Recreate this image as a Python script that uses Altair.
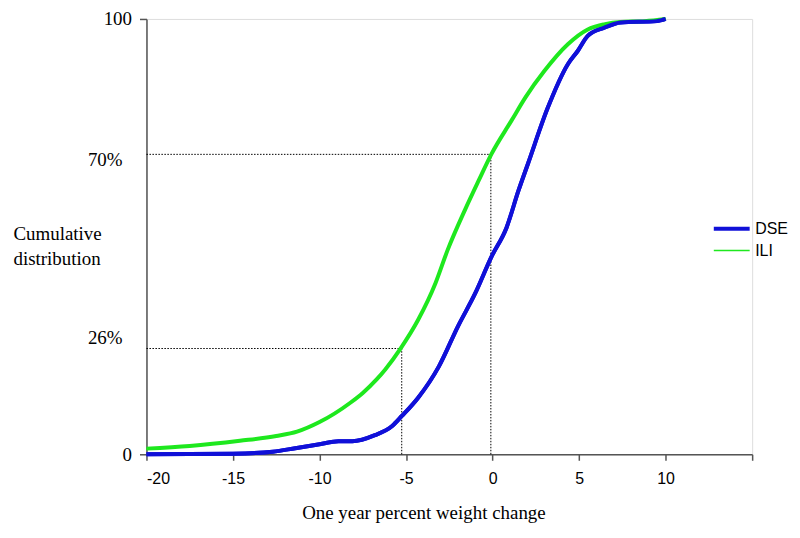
import altair as alt
import pandas as pd

# ---- data ----
ili_x = [-20, -17.5, -14.6, -12.5, -11.3, -10, -8.2, -7.5, -6.7, -6.2, -5.3, -4.3, -3.3,
         -2.6, -1.6, -0.8, -0.06, 1.1, 1.9, 3.0, 4.35, 5.5, 6.5, 7.4, 8.8, 10]
ili_y = [1.3, 1.9, 3.1, 4.2, 5.2, 7.4, 11.9, 14.1, 17.2, 19.5, 24.4, 30.9, 39.3,
         46.9, 56.1, 62.9, 69.0, 76.7, 82.0, 88.1, 94.2, 97.6, 98.8, 99.3, 99.5, 100]

dse_x = [-20, -15, -12.7, -11.4, -10, -8.9, -8.1, -6.8, -5.8, -5.24, -4.3, -3.1, -2.0,
         -1.0, -0.06, 0.8, 1.5, 2.05, 3.2, 4.35, 4.93, 5.5, 6.46, 7.4, 9.5, 10]
dse_y = [0, 0.15, 0.6, 1.4, 2.3, 3.0, 3.0, 4.4, 6.5, 8.8, 13.0, 20.2, 29.4,
         37.0, 45.4, 52.0, 60.6, 66.8, 79.7, 89.6, 92.7, 96.1, 98.0, 99.2, 99.5, 100]

series_names = ["DSE", "ILI"]
series_colors = ["#1010d8", "#1ee81e"]

# reference (dotted) lines: x where the ILI curve crosses the level, and the level
ref_x = [-0.1, -5.25]
ref_y = [68.9, 24.3]
ref_labels = ["70%", "26%"]
ref_label_y = [67.7, 26.8]

x_ticks = [-20, -15, -10, -5, 0, 5, 10, 15]
y_ticks = [0, 100]

# ---- tables ----
curves = pd.concat([
    pd.DataFrame({"x": dse_x, "y": dse_y, "series": "DSE"}),
    pd.DataFrame({"x": ili_x, "y": ili_y, "series": "ILI"}),
])
refs = pd.DataFrame({"xv": ref_x, "yv": ref_y, "x0": -20, "y0": 0,
                     "label": ref_labels, "ly": ref_label_y})

SERIF = "Liberation Serif"
SANS = "Liberation Sans"

xscale = alt.Scale(domain=[-20, 15], nice=False, zero=False)
yscale = alt.Scale(domain=[0, 100], nice=False)

x_axis = alt.Axis(values=x_ticks, labelExpr="datum.value == 15 ? '' : toString(datum.value)",
                  title="One year percent weight change", grid=False,
                  labelFont=SANS, labelFontSize=16, labelColor="black", labelPadding=10,
                  tickSize=6, tickColor="#555", domainColor="#555", domainWidth=1.5, tickWidth=1.5,
                  titleFont=SERIF, titleFontSize=19, titleFontWeight="normal", titleColor="black",
                  titleX=278, titleY=58, titleAnchor="middle", titleAlign="center", titleBaseline="middle")
y_axis = alt.Axis(values=y_ticks, format="d", title=["Cumulative", "distribution"], grid=False,
                  labelFont=SERIF, labelFontSize=19, labelColor="black", labelPadding=8,
                  tickSize=7, tickColor="#555", domainColor="#555", domainWidth=1.5, tickWidth=1.5,
                  titleFont=SERIF, titleFontSize=19, titleFontWeight="normal", titleColor="black",
                  titleAngle=0, titleAlign="left", titleBaseline="middle", titleLineHeight=25,
                  titleX=-134, titleY=215)

color_scale = alt.Scale(domain=series_names, range=series_colors)

legend_cfg = dict(title=None, orient="none", legendX=573, legendY=196,
                  symbolType="M-1.44,0H1.44", symbolSize=625,
                  labelFont=SANS, labelFontSize=16, labelColor="black",
                  labelOffset=9, rowPadding=0, padding=0)

# layer with legend (ILI thin in legend)
legend_lines = alt.Chart(curves).mark_line(interpolate="monotone").encode(
    x=alt.X("x:Q", scale=xscale, axis=x_axis),
    y=alt.Y("y:Q", scale=yscale, axis=y_axis),
    color=alt.Color("series:N", scale=color_scale, legend=alt.Legend(**legend_cfg)),
    strokeWidth=alt.StrokeWidth("series:N", scale=alt.Scale(domain=series_names, range=[4, 1.5]),
                                legend=alt.Legend(**legend_cfg)),
    order="x:Q",
)

# thick lines drawn over the legend layer
ili_thick = alt.Chart(curves).transform_filter(alt.datum.series == "ILI").mark_line(
    interpolate="monotone", color=series_colors[1], strokeWidth=4).encode(
    x=alt.X("x:Q", scale=xscale), y=alt.Y("y:Q", scale=yscale), order="x:Q")

dse_thick = alt.Chart(curves).transform_filter(alt.datum.series == "DSE").mark_line(
    interpolate="monotone", color=series_colors[0], strokeWidth=4).encode(
    x=alt.X("x:Q", scale=xscale), y=alt.Y("y:Q", scale=yscale), order="x:Q")

h_rules = alt.Chart(refs).mark_rule(color="black", strokeWidth=1, strokeDash=[1.5, 1.5]).encode(
    x=alt.X("x0:Q", scale=xscale), x2="xv:Q", y=alt.Y("yv:Q", scale=yscale))
v_rules = alt.Chart(refs).mark_rule(color="black", strokeWidth=1, strokeDash=[1.5, 1.5]).encode(
    x=alt.X("xv:Q", scale=xscale), y=alt.Y("y0:Q", scale=yscale), y2="yv:Q")

ref_text = alt.Chart(refs).mark_text(align="right", baseline="middle", font=SERIF, fontSize=19,
                                      color="black").encode(
    x=alt.value(-24), y=alt.Y("ly:Q", scale=yscale), text="label:N")

chart = alt.layer(h_rules, v_rules, legend_lines, ili_thick, dse_thick, ref_text).properties(
    width=608, height=437,
    autosize=alt.AutoSizeParams(type="none"),
    padding={"left": 139, "top": 10, "right": 40, "bottom": 74},
).configure_view(stroke=None).configure(background="white")

chart.save("out.html", embed_options={"renderer": "svg", "actions": False})
